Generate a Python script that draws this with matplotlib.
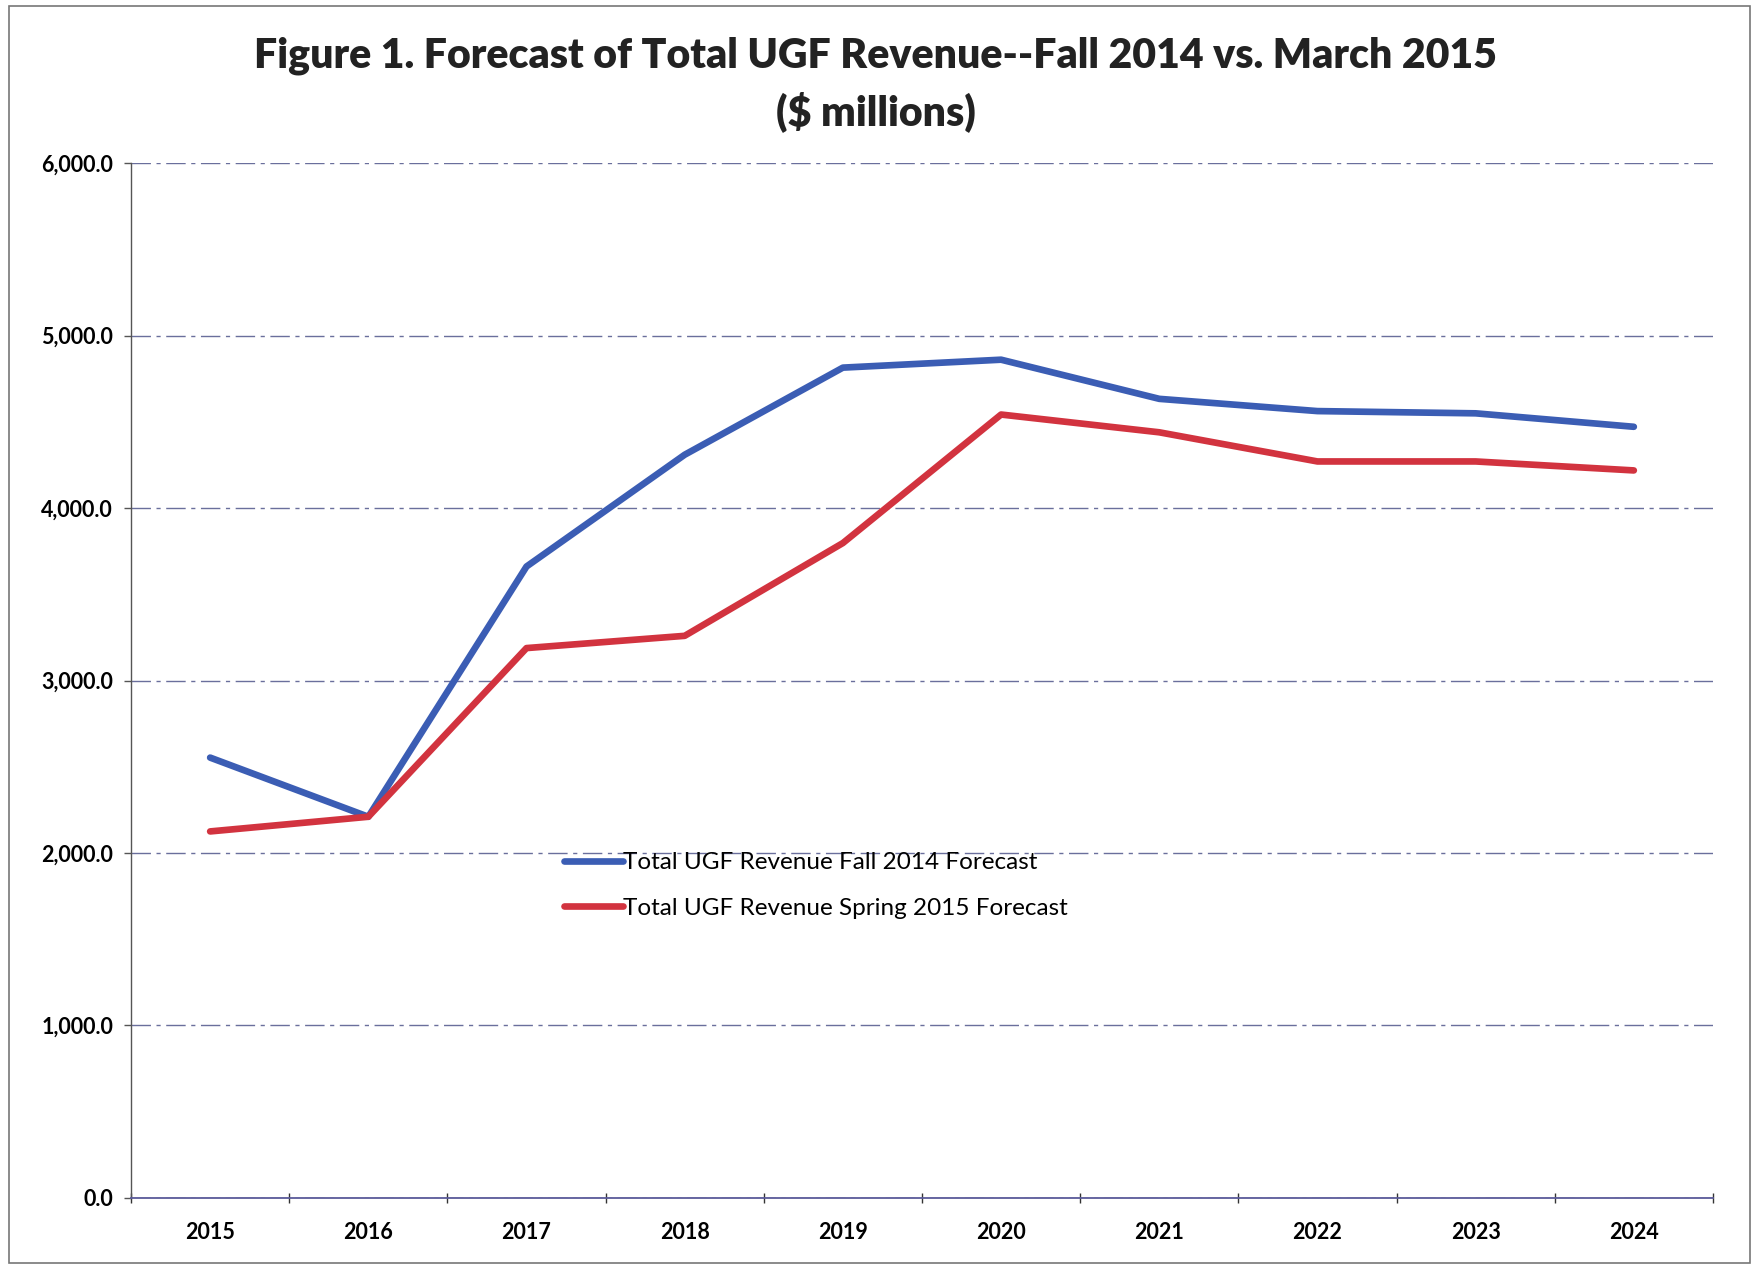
import matplotlib.pyplot as plt
from matplotlib.patches import Rectangle

plt.rcParams['font.family'] = ['Lato', 'DejaVu Sans']

# data ($ millions)
years = ["2015", "2016", "2017", "2018", "2019", "2020", "2021", "2022", "2023", "2024"]
fall_2014 = [2553, 2210, 3661, 4309, 4814, 4860, 4633, 4562, 4549, 4471]
spring_2015 = [2125, 2210, 3188, 3259, 3797, 4542, 4439, 4270, 4270, 4218]

fig = plt.figure(figsize=(17.52, 12.67), dpi=100)
ax = fig.add_axes([0.0748, 0.0545, 0.9029, 0.8168])

x = range(len(years))
ax.plot(x, fall_2014, color="#3b5db4", lw=4.8, solid_capstyle="round",
        label="Total UGF Revenue Fall 2014 Forecast")
ax.plot(x, spring_2015, color="#d2333f", lw=4.8, solid_capstyle="round",
        label="Total UGF Revenue Spring 2015 Forecast")

ax.set_xlim(-0.5, len(years) - 0.5)
ax.set_ylim(0, 6000)
ax.set_yticks(range(0, 6001, 1000))
ax.set_yticklabels([f"{v:,.1f}" for v in range(0, 6001, 1000)],
                   fontsize=15.5, fontweight="bold")
ax.set_xticks(list(x))
ax.set_xticklabels(years, fontsize=15.5, fontweight="bold")
ax.set_xticks([i - 0.5 for i in range(len(years) + 1)], minor=True)
ax.tick_params(axis="x", which="major", length=0, pad=17)
ax.tick_params(axis="x", which="minor", length=7, width=1, color="#333333", direction="inout")
ax.tick_params(axis="y", length=5, width=1, color="#555555", pad=8)

# gridlines
ax.yaxis.grid(True, color="#6a6f9c", lw=1.0, linestyle=(0, (14, 4, 3, 4)))
ax.set_axisbelow(True)
for s in ["top", "right"]:
    ax.spines[s].set_visible(False)
ax.spines["left"].set_color("#555555")
ax.spines["left"].set_linewidth(1)
ax.spines["bottom"].set_color("#5a5a9a")
ax.spines["bottom"].set_linewidth(1.3)

fig.text(0.5, 0.956, "Figure 1. Forecast of Total UGF Revenue--Fall 2014 vs. March 2015",
         ha="center", va="center", fontsize=29.5, fontweight="heavy", color="#222222")
fig.text(0.5, 0.912, "($ millions)", ha="center", va="center",
         fontsize=29.5, fontweight="heavy", color="#222222")

ax.legend(loc="upper left", bbox_to_anchor=(0.274, 0.334), frameon=False,
          fontsize=17.5, handlelength=2.4, handletextpad=0.0, labelspacing=1.0,
          borderpad=0, borderaxespad=0)

# outer chart border
fig.add_artist(Rectangle((0.005, 0.003), 0.994, 0.992, transform=fig.transFigure,
                         fill=False, edgecolor="#777777", lw=1.2))

fig.savefig("out.png", dpi=100)
plt.close(fig)
